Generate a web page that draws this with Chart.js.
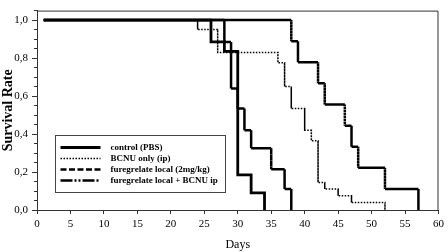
<!DOCTYPE html>
<html>
<head>
<meta charset="utf-8">
<script src="https://cdn.jsdelivr.net/npm/chart.js@4/dist/chart.umd.min.js"></script>
<style>
  body { margin: 0; background: #fff; }
  #wrap { width: 448px; height: 252px; }
</style>
</head>
<body>
<div id="wrap"><canvas id="survChart" width="448" height="252"></canvas></div>
<script>
// Kaplan-Meier steps (day of event, survival after event)
const controlDays = [1, 26, 28, 30, 32, 34];
const controlSurv = [1, 0.885, 0.835, 0.185, 0.09, 0];

const bcnuDays = [1, 24, 27, 36, 37, 38, 40, 41, 42, 43, 45, 47, 52];
const bcnuSurv = [1, 0.95, 0.83, 0.775, 0.65, 0.535, 0.42, 0.365, 0.145, 0.11, 0.075, 0.04, 0];

const furDays = [1, 28, 29, 30, 31, 32, 35, 37, 38];
const furSurv = [1, 0.885, 0.64, 0.535, 0.42, 0.325, 0.215, 0.11, 0];

const comboDays = [1, 38, 39, 42, 43, 46, 47, 48, 52, 57];
const comboSurv = [1, 0.889, 0.778, 0.667, 0.556, 0.444, 0.333, 0.222, 0.111, 0];

const seriesLabels = ['control (PBS)', 'BCNU only (ip)', 'furegrelate local (2mg/kg)', 'furegrelate local + BCNU ip'];
const yTicks = [0, 0.2, 0.4, 0.6, 0.8, 1.0];

const serif = '"Liberation Serif", "Times New Roman", serif';

// turn event lists into step-function corner points
function steps(xs, ys) {
  const out = [{ x: xs[0], y: ys[0] }];
  for (let i = 1; i < xs.length; i++) {
    out.push({ x: xs[i], y: ys[i - 1] });
    out.push({ x: xs[i], y: ys[i] });
  }
  return out;
}

function isVertical(c) {
  return c.p0.parsed.x === c.p1.parsed.x;
}

// legend box drawn inside the plot, plus the frame on top and right
const boxLegend = {
  id: 'boxLegend',
  afterDraw(chart) {
    const ctx = chart.ctx;
    const a = chart.chartArea;
    ctx.save();
    ctx.strokeStyle = '#333';
    ctx.lineWidth = 1;
    ctx.beginPath();
    ctx.moveTo(a.left, a.top + 0.5);
    ctx.lineTo(a.right - 0.5, a.top + 0.5);
    ctx.lineTo(a.right - 0.5, a.bottom);
    ctx.stroke();

    const bx = a.left + 18.5, by = 135.5, bw = 170, bh = 57;
    ctx.strokeStyle = '#444';
    ctx.strokeRect(bx, by, bw, bh);
    ctx.font = 'bold 9px ' + serif;
    ctx.textBaseline = 'middle';
    ctx.fillStyle = '#000';
    chart.data.datasets.forEach((ds, i) => {
      const yy = by + 12 + i * 11;
      ctx.beginPath();
      ctx.setLineDash(ds.legendDash);
      ctx.lineWidth = ds.borderWidth;
      ctx.strokeStyle = '#000';
      ctx.moveTo(bx + 5, yy);
      ctx.lineTo(bx + 45, yy);
      ctx.stroke();
      ctx.setLineDash([]);
      ctx.fillText(ds.label, bx + 55, yy + 0.5);
    });
    ctx.restore();
  }
};

new Chart(document.getElementById('survChart').getContext('2d'), {
  type: 'line',
  data: {
    datasets: [
      { label: seriesLabels[0], data: steps(controlDays, controlSurv), borderWidth: 2.8, order: 0,
        legendDash: [], segment: { borderDash: () => [] } },
      { label: seriesLabels[1], data: steps(bcnuDays, bcnuSurv), borderWidth: 1.5, order: 1,
        legendDash: [1.5, 1.5], segment: { borderDash: () => [1.5, 1.5] } },
      { label: seriesLabels[2], data: steps(furDays, furSurv), borderWidth: 2.5, order: 2,
        legendDash: [6, 2.5], segment: { borderDash: c => isVertical(c) ? [4, 2] : [] } },
      { label: seriesLabels[3], data: steps(comboDays, comboSurv), borderWidth: 2.5, order: 3,
        legendDash: [12, 2, 2, 2, 2, 2], segment: { borderDash: c => isVertical(c) ? [1.5, 1.5] : [] } }
    ].map(ds => Object.assign(ds, {
      borderColor: '#000',
      pointRadius: 0,
      fill: false,
      yAxisID: 'y',
      borderCapStyle: 'butt'
    }))
  },
  options: {
    responsive: false,
    animation: false,
    devicePixelRatio: 1,
    layout: { padding: { top: 0, right: 4, bottom: 0, left: 0 } },
    plugins: { legend: { display: false }, tooltip: { enabled: false } },
    scales: {
      x: {
        type: 'linear',
        min: 0,
        max: 60,
        grid: { drawOnChartArea: false, tickLength: 4, color: '#333' },
        border: { color: '#333', width: 1 },
        ticks: { stepSize: 5, padding: 4, color: '#000', font: { family: serif, size: 11 } },
        title: { display: true, text: 'Days', color: '#000', padding: { top: 0, bottom: 0 }, font: { family: serif, size: 12 } },
        afterFit(s) { s.height = 42; }
      },
      y: {
        type: 'linear',
        min: 0,
        max: 1.05,
        weight: 1,
        grid: { drawOnChartArea: false, tickLength: 5, color: '#333' },
        border: { color: '#333', width: 1 },
        afterBuildTicks(s) { s.ticks = yTicks.map(v => ({ value: v })); },
        ticks: {
          padding: 4,
          color: '#000',
          font: { family: serif, size: 11 },
          callback: v => v.toFixed(1).replace('.', ',')
        },
        title: { display: true, text: 'Survival Rate', color: '#000', padding: { top: 0, bottom: 0 }, font: { family: serif, size: 14, weight: 'bold' } },
        afterFit(s) { s.width = 37; }
      },
      yMinor: {
        type: 'linear',
        position: 'left',
        min: 0,
        max: 1.05,
        weight: 0,
        grid: { drawOnChartArea: false, tickLength: 3, color: '#333' },
        border: { display: false },
        ticks: { display: false, stepSize: 0.05 },
        afterFit(s) { s.width = 0; }
      }
    }
  },
  plugins: [boxLegend]
});
</script>
</body>
</html>
